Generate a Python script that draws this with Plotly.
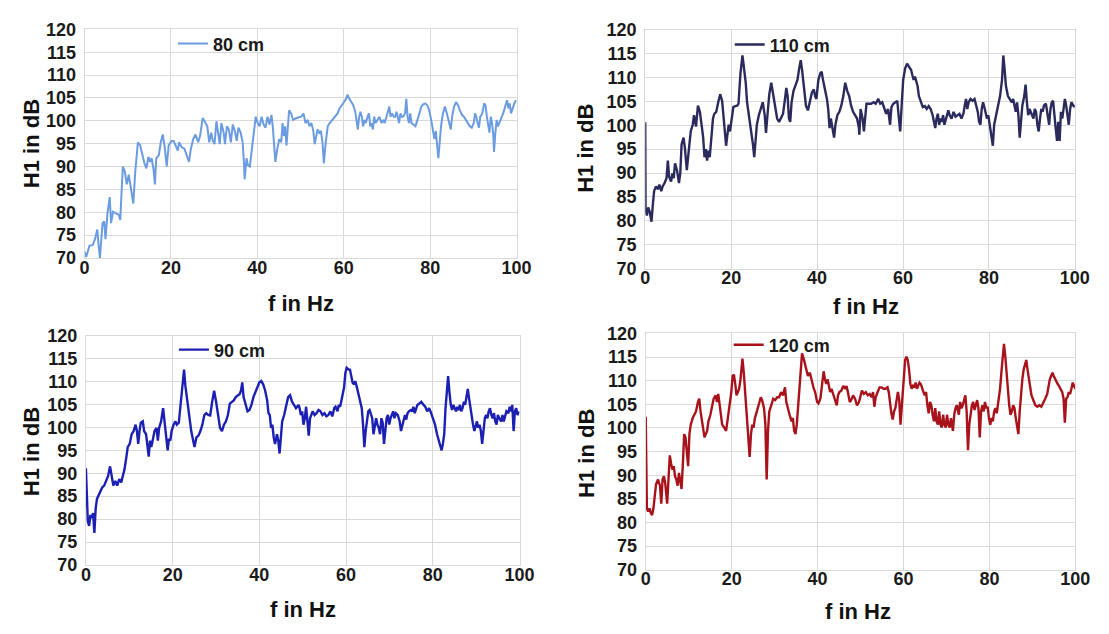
import plotly.graph_objects as go

# ---------------- data ----------------
# 80 cm
f80 = [0, 0.38, 1.14, 1.89, 2.42, 2.95, 3.26, 3.56, 4.17, 4.55,
       4.85, 5.30, 5.83, 6.14, 6.59, 7.35, 7.95, 8.26, 8.86, 9.32,
       9.77, 10.23, 10.76, 11.29, 11.74, 12.35, 12.88, 13.41, 13.86, 14.32,
       14.77, 15.15, 15.53, 15.98, 16.29, 16.59, 17.20, 17.65, 18.11, 18.56,
       19.02, 19.47, 20.08, 20.61, 21.14, 21.59, 21.89, 22.50, 23.11, 23.71,
       24.17, 24.62, 25.15, 25.68, 26.29, 26.74, 27.35, 27.80, 28.41, 28.86,
       29.32, 29.70, 30.08, 30.53, 30.98, 31.29, 31.67, 32.20, 32.50, 32.95,
       33.41, 33.86, 34.32, 34.77, 35.23, 35.61, 36.14, 36.59, 36.89, 37.05,
       37.50, 37.80, 38.26, 38.71, 39.17, 39.62, 40.08, 40.53, 40.98, 41.44,
       41.89, 42.35, 42.80, 43.26, 43.56, 43.86, 44.17, 44.62, 45.08, 45.53,
       45.83, 46.14, 46.44, 46.74, 47.05, 47.35, 47.80, 48.26, 49.02, 49.77,
       50.15, 50.68, 51.14, 51.67, 52.05, 52.50, 52.95, 53.26, 53.56, 53.94,
       54.32, 54.70, 55.08, 55.38, 55.83, 56.29, 56.74, 57.35, 57.95, 58.56,
       59.02, 59.62, 60.08, 60.53, 60.83, 61.29, 61.74, 62.20, 62.65, 62.95,
       63.26, 63.56, 63.86, 64.17, 64.47, 64.77, 65.08, 65.53, 65.83, 66.14,
       66.44, 66.74, 67.05, 67.35, 67.80, 68.26, 68.71, 69.17, 69.47, 69.92,
       70.23, 70.53, 70.83, 71.14, 71.59, 71.89, 72.20, 72.50, 72.80, 73.11,
       73.41, 73.71, 74.17, 74.47, 74.77, 75.08, 75.38, 75.68, 76.14, 76.59,
       77.05, 77.50, 77.95, 78.41, 78.86, 79.32, 79.77, 80.23, 80.68, 80.98,
       81.29, 81.59, 81.89, 82.20, 82.50, 82.95, 83.41, 83.86, 84.32, 84.77,
       85.08, 85.53, 85.98, 86.44, 86.89, 87.35, 87.80, 88.26, 88.71, 89.17,
       89.62, 90.08, 90.38, 90.68, 90.98, 91.29, 91.59, 92.05, 92.50, 92.80,
       93.11, 93.41, 93.71, 94.02, 94.32, 94.62, 94.77, 95.08, 95.38, 95.68,
       95.98, 96.44, 96.89, 97.35, 97.80, 98.11, 98.41, 98.71, 99.02, 99.47,
       99.92]
h80 = [71.4, 70.2, 72.7, 72.8, 74.1, 76.2, 72.7, 70.0, 77.6, 78.0,
       74.1, 79.7, 83.3, 77.6, 80.1, 79.7, 79.4, 78.3, 90.0, 88.9,
       86.1, 88.2, 84.7, 81.9, 88.9, 95.3, 94.6, 92.5, 90.7, 89.6,
       92.1, 91.0, 91.8, 89.3, 86.1, 91.8, 92.5, 95.3, 97.0, 94.2,
       90.0, 94.6, 95.6, 95.6, 94.6, 93.5, 95.3, 94.2, 93.9, 92.5,
       91.0, 93.9, 96.0, 97.0, 95.3, 96.7, 100.6, 99.9, 98.8, 95.3,
       97.4, 95.6, 94.9, 99.9, 97.4, 94.9, 99.5, 97.4, 94.9, 98.8,
       98.1, 95.3, 99.2, 97.8, 95.6, 98.5, 97.4, 95.3, 91.0, 87.2,
       91.8, 90.3, 90.0, 93.9, 97.4, 100.9, 99.5, 98.8, 100.9, 99.2,
       98.5, 100.9, 99.2, 101.3, 98.8, 94.6, 91.0, 93.9, 96.0, 95.3,
       99.5, 96.7, 98.8, 94.6, 99.5, 102.3, 101.6, 100.2, 100.6, 100.9,
       100.9, 101.6, 99.5, 100.2, 98.8, 99.5, 97.8, 94.9, 96.7, 98.1,
       97.4, 97.8, 95.3, 90.7, 95.3, 98.8, 99.5, 100.2, 100.9, 101.6,
       102.7, 103.4, 104.1, 104.8, 105.7, 104.8, 104.1, 103.4, 102.0, 100.2,
       98.1, 100.9, 102.0, 100.9, 98.8, 100.2, 99.5, 100.9, 101.6, 98.8,
       99.5, 98.1, 100.9, 99.5, 100.2, 100.9, 99.5, 100.2, 99.5, 100.9,
       101.6, 103.1, 100.9, 101.6, 100.9, 100.9, 102.0, 100.9, 99.5, 101.6,
       100.9, 100.9, 101.6, 104.8, 100.9, 99.5, 101.6, 99.5, 99.2, 98.8,
       100.2, 101.6, 103.1, 103.6, 103.8, 103.4, 102.3, 100.2, 98.1, 96.0,
       97.8, 95.3, 91.8, 95.3, 98.8, 101.6, 103.1, 101.6, 99.5, 98.1,
       100.9, 103.1, 104.1, 103.4, 102.3, 101.3, 100.9, 100.2, 99.5, 98.8,
       98.5, 99.5, 101.6, 100.9, 99.5, 98.5, 100.9, 101.6, 103.8, 103.4,
       100.9, 98.8, 97.4, 100.9, 99.5, 96.7, 93.2, 97.4, 100.2, 98.8,
       99.5, 100.2, 101.6, 103.1, 104.5, 102.7, 103.8, 101.6, 102.7, 103.8,
       104.5]

# 110 cm
f110 = [0, 0.08, 0.38, 0.69, 1.07, 1.45, 1.75, 2.06, 2.51, 2.97,
        3.28, 3.73, 4.04, 4.50, 4.95, 5.26, 5.56, 6.02, 6.32, 6.63,
        6.93, 7.39, 7.85, 8.15, 8.46, 8.91, 9.22, 9.68, 10.13, 10.59,
        11.05, 11.35, 11.81, 12.27, 12.72, 13.18, 13.49, 13.79, 14.10, 14.40,
        14.70, 15.01, 15.31, 15.77, 16.08, 16.53, 16.99, 17.45, 17.90, 18.21,
        18.51, 18.82, 19.12, 19.43, 19.73, 20.19, 20.50, 20.95, 21.41, 21.71,
        22.17, 22.63, 23.09, 23.39, 23.70, 24.15, 24.46, 24.76, 25.07, 25.37,
        25.68, 25.98, 26.44, 26.90, 27.35, 27.81, 28.11, 28.57, 28.88, 29.33,
        29.79, 30.25, 30.70, 31.16, 31.62, 32.08, 32.53, 32.84, 33.14, 33.45,
        33.75, 34.06, 34.51, 34.97, 35.43, 35.89, 36.19, 36.50, 36.95, 37.41,
        37.87, 38.32, 38.78, 39.24, 39.54, 39.85, 40.30, 40.76, 41.07, 41.37,
        41.83, 42.29, 42.59, 42.90, 43.20, 43.50, 43.96, 44.27, 44.72, 45.18,
        45.64, 46.10, 46.55, 47.01, 47.47, 47.92, 48.38, 48.84, 49.30, 49.75,
        49.83, 50.13, 50.59, 50.90, 51.20, 51.50, 51.96, 52.57, 53.18, 53.64,
        54.25, 54.70, 55.16, 55.62, 56.08, 56.53, 56.99, 57.30, 57.75, 58.21,
        58.67, 58.97, 59.35, 59.73, 60.04, 60.50, 60.95, 61.41, 61.87, 62.17,
        62.48, 62.78, 63.09, 63.39, 63.70, 64.15, 64.61, 65.07, 65.52, 65.98,
        66.44, 66.90, 67.20, 67.50, 67.81, 68.11, 68.42, 68.72, 69.03, 69.33,
        69.64, 69.94, 70.25, 70.55, 70.86, 71.31, 71.77, 72.23, 72.69, 73.14,
        73.60, 74.06, 74.36, 74.67, 74.97, 75.28, 75.73, 76.19, 76.65, 77.11,
        77.41, 77.71, 78.02, 78.32, 78.63, 78.93, 79.24, 79.54, 79.85, 80.15,
        80.46, 80.91, 81.22, 81.68, 82.13, 82.59, 83.05, 83.35, 83.66, 83.96,
        84.42, 84.88, 85.33, 85.64, 85.94, 86.25, 86.55, 86.86, 87.16, 87.47,
        87.77, 88.23, 88.53, 88.84, 89.14, 89.45, 89.75, 90.06, 90.36, 90.67,
        90.97, 91.28, 91.58, 91.89, 92.19, 92.50, 92.80, 93.26, 93.71, 94.02,
        94.32, 94.63, 94.93, 95.24, 95.54, 95.85, 96.15, 96.46, 96.76, 97.07,
        97.37, 97.68, 97.98, 98.29, 98.59, 98.90, 99.20, 99.66, 100.0]
h110 = [100.6, 82.5, 81.1, 82.8, 81.8, 79.8, 83.2, 86.2, 87.2, 86.6,
        87.6, 86.2, 87.2, 87.9, 88.9, 92.6, 89.2, 88.2, 89.9, 88.9,
        92.0, 90.6, 87.9, 89.9, 96.0, 97.4, 95.3, 90.6, 94.7, 98.7,
        100.1, 102.1, 99.7, 104.1, 102.8, 100.1, 97.4, 93.3, 95.0, 92.6,
        94.7, 93.3, 96.0, 101.4, 102.4, 102.8, 104.8, 106.5, 105.1, 102.1,
        98.7, 95.7, 98.0, 100.1, 98.7, 102.1, 103.8, 104.0, 104.1, 104.5,
        110.9, 114.6, 111.6, 108.9, 104.8, 102.1, 99.4, 98.0, 96.0, 93.3,
        97.4, 100.1, 102.1, 103.4, 104.8, 102.1, 98.4, 103.4, 106.5, 108.9,
        106.5, 104.1, 101.4, 100.7, 101.4, 102.4, 105.5, 107.8, 106.1, 101.4,
        100.7, 104.8, 107.2, 108.2, 109.5, 112.2, 113.6, 111.6, 108.2, 104.1,
        103.1, 104.8, 106.8, 107.5, 106.1, 105.5, 109.5, 110.9, 111.2, 109.5,
        107.5, 105.5, 103.4, 99.4, 101.4, 100.1, 97.4, 100.1, 102.1, 102.8,
        104.1, 106.1, 108.9, 107.2, 106.1, 104.1, 102.8, 102.1, 101.4, 99.4,
        98.0, 103.4, 101.4, 98.7, 102.1, 104.5, 104.5, 104.5, 104.8, 104.5,
        105.5, 104.5, 104.8, 103.4, 102.4, 103.4, 100.1, 103.8, 104.5, 104.8,
        105.1, 102.1, 98.7, 104.8, 109.5, 111.9, 112.9, 112.2, 111.6, 110.5,
        109.5, 110.2, 109.2, 108.2, 106.1, 104.8, 103.8, 104.0, 103.4, 104.0,
        103.4, 102.1, 100.7, 99.4, 101.4, 102.4, 100.1, 101.4, 100.7, 102.1,
        100.1, 101.1, 102.1, 103.1, 102.1, 101.4, 102.8, 101.8, 102.1, 102.4,
        101.4, 102.4, 104.1, 105.5, 103.4, 104.8, 105.5, 105.1, 105.5, 104.1,
        102.8, 100.7, 100.1, 103.4, 104.8, 103.8, 102.8, 101.4, 102.1, 100.1,
        98.7, 95.7, 100.1, 102.1, 104.1, 106.1, 109.5, 114.6, 111.6, 108.2,
        106.1, 105.5, 104.8, 105.5, 104.1, 102.8, 104.8, 102.1, 97.4, 101.4,
        104.1, 106.1, 108.5, 104.8, 102.1, 103.4, 102.8, 102.1, 101.4, 103.4,
        102.8, 100.1, 98.7, 101.4, 103.4, 102.8, 104.1, 104.5, 102.1, 100.1,
        103.4, 104.8, 105.1, 102.8, 99.4, 96.7, 100.7, 96.7, 102.8, 101.4,
        103.4, 105.5, 104.1, 102.1, 100.1, 103.4, 104.8, 104.1, 103.8]

# 90 cm
f90 = [0, 0.21, 0.44, 0.74, 1.04, 1.34, 1.65, 1.95, 2.25, 2.55,
       2.85, 3.31, 3.76, 4.21, 4.66, 5.12, 5.57, 5.87, 6.32, 6.78,
       7.23, 7.68, 8.14, 8.59, 8.89, 9.34, 9.64, 10.10, 10.55, 11.00,
       11.46, 11.76, 12.06, 12.36, 12.66, 13.12, 13.42, 13.87, 14.17, 14.48,
       14.78, 15.08, 15.38, 15.83, 16.29, 16.59, 16.89, 17.34, 17.80, 18.25,
       18.55, 18.85, 19.15, 19.46, 19.76, 20.21, 20.66, 20.97, 21.42, 21.87,
       22.32, 22.63, 22.93, 23.38, 23.83, 24.29, 24.74, 25.04, 25.49, 25.95,
       26.40, 26.85, 27.31, 27.76, 28.21, 28.66, 29.12, 29.57, 30.02, 30.48,
       30.93, 31.38, 31.83, 32.29, 32.74, 33.19, 33.65, 34.10, 34.55, 35.00,
       35.46, 35.76, 36.06, 36.36, 36.81, 37.27, 37.72, 38.17, 38.63, 39.08,
       39.53, 39.98, 40.44, 40.89, 41.34, 41.80, 42.10, 42.40, 42.70, 43.00,
       43.31, 43.61, 44.06, 44.36, 44.66, 44.96, 45.26, 45.72, 46.17, 46.63,
       47.08, 47.53, 47.98, 48.44, 49.04,
       49.27, 49.57, 49.87, 50.17, 50.48, 50.78, 51.08, 51.38, 51.68, 51.98,
       52.29, 52.74, 53.19, 53.64, 54.10, 54.55, 55.00, 55.46, 55.91, 56.36,
       56.81, 57.27, 57.57, 58.02, 58.32, 58.63, 58.93, 59.23, 59.53, 59.83,
       60.13, 60.59, 60.89, 61.19, 61.49, 61.80, 62.10, 62.40, 62.70, 63.00,
       63.31, 63.61, 63.91, 64.21, 64.51, 64.81, 65.12, 65.42, 65.72, 66.02,
       66.32, 66.63, 66.93, 67.23, 67.53, 67.83, 68.14, 68.44, 68.74, 69.04,
       69.34, 69.65, 69.95, 70.25, 70.55, 70.85, 71.15, 71.46, 71.91, 72.36,
       72.66, 72.97, 73.27, 73.57, 73.87, 74.17, 74.48, 74.93, 75.23, 75.53,
       75.83, 76.14, 76.44, 76.89, 77.34, 77.80, 78.25, 78.70, 79.16, 79.61,
       80.06, 80.51, 80.97, 81.42, 81.72, 82.02, 82.32, 82.63, 82.93, 83.23,
       83.53, 83.83, 84.14, 84.44, 84.74, 85.04, 85.34, 85.65, 85.95, 86.25,
       86.55, 86.85, 87.16, 87.46, 87.76, 88.06, 88.36, 88.66, 88.97, 89.27,
       89.57, 89.87, 90.17, 90.48, 90.78, 91.08, 91.38, 91.68, 91.99, 92.29,
       92.59, 92.89, 93.19, 93.49, 93.80, 94.10, 94.40, 94.70, 95.00, 95.31,
       95.76, 96.06, 96.36, 96.66, 96.97, 97.42, 97.72, 98.02, 98.32, 98.63,
       98.93, 99.23, 99.53, 99.83]
h90 = [91.1, 82.3, 79.5, 78.5, 80.9, 80.2, 81.3, 77.0, 82.3, 84.4,
       85.1, 85.8, 86.9, 87.3, 88.3, 89.4, 91.5, 89.4, 87.3, 88.3,
       87.3, 88.7, 88.0, 89.7, 90.8, 93.6, 95.7, 96.4, 98.5, 99.2,
       100.6, 99.2, 96.4, 99.2, 101.0, 101.3, 99.2, 98.5, 96.4, 93.6,
       97.1, 95.7, 97.1, 99.2, 99.9, 97.1, 99.9, 101.3, 104.2, 100.6,
       97.8, 95.0, 97.5, 97.1, 99.2, 100.6, 101.3, 100.6, 101.0, 104.9,
       109.4, 112.6, 109.1, 105.6, 102.7, 99.2, 97.1, 95.7, 97.8, 98.2,
       99.2, 100.6, 102.7, 103.1, 102.7, 102.6, 105.6, 108.0, 105.6, 102.7,
       99.9, 99.2, 100.6, 101.3, 102.7, 105.2, 105.6, 105.9, 106.6, 107.0,
       107.3, 108.0, 109.8, 106.6, 104.9, 103.5, 103.8, 104.9, 106.6, 107.7,
       108.7, 109.8, 110.1, 109.4, 108.0, 105.9, 103.1, 102.7, 99.9, 100.6,
       97.8, 96.4, 98.5, 97.1, 94.3, 98.5, 101.3, 102.7, 104.9, 106.6,
       107.0, 105.6, 104.9, 104.2, 104.9,
       104.2, 102.7, 103.5, 100.6, 102.0, 104.5, 101.3, 98.2, 102.0, 102.7,
       103.5, 102.7, 103.1, 103.8, 103.5, 102.7, 103.1, 102.4, 102.7, 103.5,
       102.4, 104.2, 104.5, 103.5, 104.9, 104.5, 105.9, 107.7, 108.7, 111.9,
       113.0, 112.6, 112.6, 111.2, 109.8, 109.4, 110.1, 109.1, 107.7, 106.6,
       104.9, 104.2, 100.6, 95.7, 99.2, 102.0, 103.5, 103.8, 102.7, 102.0,
       98.5, 99.9, 102.0, 100.6, 99.9, 98.5, 102.0, 101.0, 96.4, 99.2,
       102.0, 102.7, 100.6, 102.0, 102.7, 103.5, 102.0, 103.1, 102.7, 101.3,
       99.2, 100.6, 101.3, 102.7, 101.7, 103.1, 103.5, 103.8, 103.5, 104.5,
       103.1, 104.2, 104.9, 105.2, 105.6, 105.0, 104.5, 103.5, 104.2, 103.1,
       102.0, 100.6, 98.5, 97.1, 96.4, 95.0, 96.4, 98.5, 104.2, 108.4,
       111.2, 107.7, 104.9, 103.8, 104.9, 104.2, 103.5, 104.5, 103.8, 104.9,
       103.5, 104.2, 105.6, 104.9, 106.3, 108.4, 106.3, 104.2, 102.7, 100.6,
       99.2, 100.6, 101.3, 99.9, 100.6, 99.2, 96.4, 99.2, 102.0, 102.7,
       102.0, 103.5, 104.2, 102.7, 102.0, 103.1, 101.3, 100.6, 102.7, 102.0,
       101.3, 102.7, 101.3, 102.4, 103.5, 103.1, 104.5, 103.5, 104.9, 99.2,
       103.5, 104.2, 102.7, 103.5]

# 120 cm
f120 = [0, 0.27, 0.57, 0.88, 1.18, 1.49, 1.79, 2.10, 2.40, 2.86,
        3.31, 3.62, 3.92, 4.23, 4.53, 4.99, 5.30, 5.60, 5.90, 6.21,
        6.51, 6.82, 7.12, 7.43, 7.73, 8.04, 8.34, 8.65, 8.95, 9.26,
        9.56, 9.87, 10.17, 10.48, 10.93, 11.24, 11.70, 12.15, 12.46, 12.76,
        13.07, 13.37, 13.68, 13.98, 14.29, 14.59, 15.05, 15.50, 15.81, 16.27,
        16.57, 16.88, 17.18, 17.49, 17.79, 18.25, 18.70, 19.01, 19.31, 19.62,
        19.92, 20.23, 20.53, 20.84, 21.14, 21.45, 21.75, 22.06, 22.51, 22.82,
        23.12, 23.43, 23.89, 24.19, 24.50, 24.80, 25.11, 25.41, 25.87, 26.32,
        26.78, 27.09, 27.54, 27.85, 28.15, 28.46, 28.76, 29.22, 29.68, 30.13,
        30.59, 31.05, 31.50, 31.96, 32.42, 32.72, 33.03, 33.49, 33.94, 34.25,
        34.55, 34.86, 35.16, 35.47, 35.92, 36.38, 36.84, 37.30, 37.75, 38.21,
        38.67, 39.12, 39.43, 39.89, 40.19, 40.65, 41.10, 41.41, 41.71, 42.02,
        42.32, 42.63, 42.93, 43.24, 43.70, 44.15, 44.46, 44.76, 45.07, 45.52,
        45.98, 46.44, 46.74, 47.05, 47.50, 47.81, 48.27, 48.72, 49.18, 49.64,
        49.87, 50.32, 50.78, 51.24, 51.70, 52.15, 52.61, 52.91, 53.22, 53.52,
        53.98, 54.44, 54.90, 55.35, 55.81, 56.27, 56.57, 56.88, 57.18, 57.49,
        57.79, 58.10, 58.40, 58.70, 59.01, 59.31, 59.62, 59.92, 60.38, 60.69,
        60.99, 61.30, 61.60, 61.90, 62.21, 62.51, 62.82, 63.12, 63.43, 63.73,
        64.04, 64.34, 64.65, 64.95, 65.26, 65.56, 65.87, 66.17, 66.48, 66.78,
        67.09, 67.39, 67.70, 68.00, 68.30, 68.61, 68.91, 69.22, 69.52, 69.83,
        70.13, 70.44, 70.74, 71.05, 71.50, 71.81, 72.11, 72.42, 72.88, 73.18,
        73.49, 73.79, 74.10, 74.40, 74.70, 75.01, 75.31, 75.62, 75.92, 76.23,
        76.53, 76.84, 77.14, 77.45, 77.75, 78.06, 78.36, 78.67, 78.97, 79.28,
        79.58, 79.89, 80.19, 80.50, 80.80, 81.10, 81.41, 81.71, 82.17, 82.48,
        82.78, 83.09, 83.39, 83.70, 84.00, 84.30, 84.61, 84.91, 85.22, 85.52,
        85.83, 86.13, 86.44, 86.74, 87.05, 87.35, 87.66, 87.96, 88.27, 88.57,
        88.88, 89.18, 89.49, 89.79, 90.10, 90.40, 90.70, 91.16, 91.62, 92.08,
        92.53, 92.99, 93.45, 93.75, 94.06, 94.36, 94.67, 94.97, 95.28, 95.58,
        95.89, 96.19, 96.65, 96.95, 97.26, 97.56, 97.87, 98.17, 98.48, 98.78,
        99.09, 99.39, 99.70, 100.0]
h120 = [102.4, 83.0, 82.3, 83.0, 82.0, 81.6, 83.0, 85.7, 88.1, 89.1,
        87.8, 84.0, 89.1, 89.8, 88.4, 84.0, 89.8, 94.2, 92.5, 91.2,
        91.9, 89.8, 89.1, 87.8, 90.5, 88.4, 87.1, 92.5, 98.7, 98.0,
        93.9, 91.9, 98.7, 100.7, 102.1, 102.8, 103.5, 105.5, 106.2, 103.5,
        101.4, 99.4, 98.0, 98.7, 99.4, 101.4, 102.8, 104.8, 106.2, 106.9,
        105.5, 107.2, 104.8, 102.1, 100.7, 100.1, 99.4, 101.4, 103.5, 105.5,
        107.6, 111.0, 111.3, 109.3, 106.9, 107.6, 108.3, 110.3, 114.7, 111.7,
        107.6, 103.5, 98.7, 93.9, 98.7, 100.7, 100.1, 102.1, 103.5, 104.8,
        106.5, 105.9, 104.2, 100.7, 89.1, 99.4, 103.5, 104.8, 106.2, 105.9,
        106.5, 106.5, 107.6, 106.9, 108.6, 105.5, 104.2, 102.8, 101.4, 102.1,
        99.4, 98.7, 100.7, 104.8, 110.3, 115.8, 114.4, 112.3, 111.0, 111.7,
        109.6, 108.3, 107.6, 105.5, 105.2, 106.2, 109.6, 112.0, 110.3, 109.3,
        110.3, 108.9, 107.6, 108.3, 106.9, 105.5, 104.8, 106.9, 107.6, 107.9,
        108.9, 108.3, 108.9, 107.6, 105.5, 105.9, 106.9, 106.2, 104.8, 105.5,
        106.5, 107.9, 107.2, 107.6, 106.9, 107.2, 106.5, 107.6, 104.5, 106.5,
        107.6, 108.6, 108.6, 108.3, 108.3, 108.6, 107.6, 104.8, 103.1, 101.8,
        103.5, 104.2, 106.5, 107.6, 105.9, 100.7, 104.8, 109.6, 114.4, 115.1,
        114.4, 112.3, 109.3, 108.3, 108.9, 108.6, 109.6, 108.3, 108.9, 109.6,
        109.3, 108.3, 107.6, 106.9, 107.6, 104.8, 103.1, 105.5, 104.8, 102.8,
        101.4, 104.2, 101.4, 100.7, 103.5, 100.7, 100.1, 102.8, 100.7, 100.1,
        102.8, 100.7, 100.1, 102.1, 99.4, 102.8, 104.2, 104.8, 102.8, 105.5,
        104.2, 104.8, 105.9, 106.9, 103.5, 95.3, 100.7, 103.5, 104.8, 105.5,
        103.8, 104.8, 105.9, 104.2, 98.0, 103.5, 104.8, 103.5, 105.5, 104.2,
        104.5, 102.1, 100.7, 102.1, 101.4, 103.5, 104.2, 103.1, 106.2, 108.3,
        111.7, 115.1, 117.8, 115.1, 111.0, 108.3, 104.8, 102.8, 103.5, 104.8,
        104.2, 102.1, 100.7, 98.7, 103.5, 107.6, 110.3, 112.3, 113.7, 114.4,
        112.3, 110.3, 108.3, 106.9, 106.2, 105.5, 104.8, 104.5, 104.8, 104.5,
        105.2, 106.2, 107.2, 108.9, 110.3, 111.0, 111.7, 111.0, 110.3, 109.6,
        109.3, 108.9, 107.9, 107.6, 106.2, 101.1, 106.2, 106.5, 107.6, 107.2,
        108.3, 109.6, 108.9, 108.3]

x_ticks = [0, 20, 40, 60, 80, 100]
y_ticks = [70, 75, 80, 85, 90, 95, 100, 105, 110, 115, 120]

# ---------------- layout helpers ----------------
W, H = 1109, 634
FONT = "Liberation Sans, Arial, sans-serif"
GRID = "#d9d9d9"


def px_x(v):
    return v / W


def px_y(v):
    return 1 - v / H


panels = [
    dict(name="80 cm", f=f80, h=h80, color="#6b9be0", width=2.0,
         xd=(81, 521), yd=(20, 256), leg=(171, 35), xt=(301, 303), yt=(27, 138)),
    dict(name="110 cm", f=f110, h=h110, color="#2a2b5c", width=2.4,
         xd=(652, 1089.5), yd=(20.3, 267), leg=(738, 36), xt=(877, 306), yt=(591, 143)),
    dict(name="90 cm", f=f90, h=h90, color="#1c20b2", width=2.4,
         xd=(82.4, 524), yd=(336.3, 573), leg=(172, 351), xt=(303, 619), yt=(27, 456)),
    dict(name="120 cm", f=f120, h=h120, color="#a8121b", width=2.4,
         xd=(652.5, 1090), yd=(334, 578), leg=(737, 346), xt=(869, 621), yt=(592, 458)),
]

fig = go.Figure()
annotations = []
layout = dict(
    width=W, height=H,
    margin=dict(l=0, r=0, t=0, b=0),
    paper_bgcolor="white", plot_bgcolor="white",
    font=dict(family=FONT, color="#1a1a1a"),
)

for i, p in enumerate(panels):
    n = "" if i == 0 else str(i + 1)
    leg_id = "legend" + n
    fig.add_trace(go.Scatter(
        x=p["f"], y=p["h"], mode="lines", name=p["name"],
        line=dict(color=p["color"], width=p["width"]),
        xaxis="x" + n, yaxis="y" + n, legend=leg_id, showlegend=True,
    ))
    tickfont = dict(family=FONT, size=18, color="#1a1a1a", weight="bold")
    layout["xaxis" + n] = dict(
        domain=[px_x(p["xd"][0]), px_x(p["xd"][1])], anchor="y" + n,
        range=[0, 100], tickvals=x_ticks, ticktext=[str(t) for t in x_ticks],
        showgrid=True, gridcolor=GRID, gridwidth=1, zeroline=False,
        showline=True, linecolor=GRID, linewidth=1, mirror=True,
        ticks="", tickfont=tickfont, ticklabelstandoff=-7,
    )
    layout["yaxis" + n] = dict(
        domain=[px_y(p["yd"][1]), px_y(p["yd"][0])], anchor="x" + n,
        range=[70, 120], tickvals=y_ticks, ticktext=[str(t) for t in y_ticks],
        showgrid=True, gridcolor=GRID, gridwidth=1, zeroline=False,
        showline=True, linecolor=GRID, linewidth=1, mirror=True,
        ticks="", tickfont=tickfont, ticklabelstandoff=4,
    )
    layout[leg_id] = dict(
        x=px_x(p["leg"][0]), y=px_y(p["leg"][1]), xanchor="left", yanchor="middle",
        xref="paper", yref="paper",
        bgcolor="rgba(0,0,0,0)", borderwidth=0,
        font=dict(family=FONT, size=18, color="#1a1a1a", weight="bold"),
    )
    annotations.append(dict(
        text="f in Hz", x=px_x(p["xt"][0]), y=px_y(p["xt"][1]),
        xref="paper", yref="paper", showarrow=False,
        xanchor="center", yanchor="middle",
        font=dict(family=FONT, size=22, color="#111111", weight="bold"),
    ))
    annotations.append(dict(
        text="H1 in dB", x=px_x(p["yt"][0]), y=px_y(p["yt"][1]),
        xref="paper", yref="paper", showarrow=False, textangle=-90,
        xanchor="center", yanchor="middle",
        font=dict(family=FONT, size=22, color="#111111", weight="bold"),
    ))

layout["annotations"] = annotations
fig.update_layout(**layout)
fig.write_html("out.html")
